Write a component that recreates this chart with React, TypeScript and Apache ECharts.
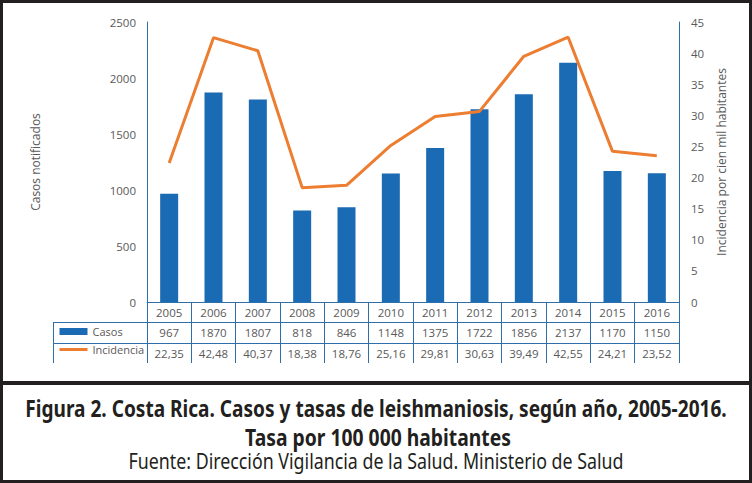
import React, { useEffect, useRef } from "react";
import * as echarts from "echarts";

const years = ["2005", "2006", "2007", "2008", "2009", "2010", "2011", "2012", "2013", "2014", "2015", "2016"];
const casos = [967, 1870, 1807, 818, 846, 1148, 1375, 1722, 1856, 2137, 1170, 1150];
const incidencia = [22.35, 42.48, 40.37, 18.38, 18.76, 25.16, 29.81, 30.63, 39.49, 42.55, 24.21, 23.52];
const leftTicks = { min: 0, max: 2500, interval: 500 };
const rightTicks = { min: 0, max: 45, interval: 5 };

const titleLine1 = "Figura 2. Costa Rica. Casos y tasas de leishmaniosis, según año, 2005-2016.";
const titleLine2 = "Tasa por 100 000 habitantes";
const sourceLine = "Fuente: Dirección Vigilancia de la Salud. Ministerio de Salud";

const FONT = "'Open Sans', 'Noto Sans', sans-serif";
const CAP_FONT = "Noto Sans";
const BLUE = "#1B6AB4";
const ORANGE = "#ED7D31";
const LINE = "#2F6EA8";
const GRAY = "#595959";
const DARK = "#231F20";

function measure(text: string, font: string): number {
  const c = document.createElement("canvas");
  const ctx = c.getContext("2d");
  if (!ctx) return 100;
  ctx.font = font;
  return ctx.measureText(text).width;
}

export default function App() {
  const ref = useRef<HTMLDivElement>(null);
  useEffect(() => {
    document.body.style.margin = "0";
    if (!ref.current) return;
    const chart = echarts.init(ref.current, undefined, { renderer: "svg" });

    const gl = 147, gr = 679, gt = 22, gb = 302;
    const fmtInc = (v: number) => v.toFixed(2).replace(".", ",");

    const capText = (text: string, cx: number, cy: number, size: number, weight: string, targetW: number) => {
      const w = measure(text, `${weight} ${size}px '${CAP_FONT}'`);
      return {
        type: "text",
        x: cx,
        y: cy,
        scaleX: targetW / w,
        style: {
          text,
          fill: DARK,
          font: `${weight} ${size}px '${CAP_FONT}'`,
          align: "center",
          verticalAlign: "middle",
        },
        silent: true,
      };
    };

    const tableAxis = (data: string[], offset: number) => ({
      type: "category",
      data,
      position: "bottom",
      offset,
      axisLine: { show: true, onZero: false, lineStyle: { color: LINE, width: 1 } },
      axisTick: { show: false },
      axisLabel: { margin: 4, fontFamily: FONT, fontSize: 11.5, color: GRAY, interval: 0 },
    });

    const option: any = {
      animation: false,
      backgroundColor: "#fff",
      grid: { left: gl, right: 752 - gr, top: gt, bottom: 483 - gb, containLabel: false },
      legend: {
        orient: "vertical",
        left: 58,
        top: 326,
        padding: 0,
        itemWidth: 28,
        itemHeight: 7,
        itemGap: 7,
        textStyle: { fontFamily: FONT, fontSize: 11, color: GRAY },
        data: [
          { name: "Casos", icon: "rect" },
          { name: "Incidencia", itemStyle: { opacity: 0 }, lineStyle: { width: 3, color: ORANGE } },
        ],
      },
      xAxis: [
        {
          type: "category",
          data: years,
          position: "bottom",
          axisLine: { show: true, onZero: false, lineStyle: { color: LINE, width: 1 } },
          axisTick: { show: true, interval: 0, length: 61, lineStyle: { color: LINE, width: 1 } },
          axisLabel: { margin: 4, fontFamily: FONT, fontSize: 11.5, color: GRAY, interval: 0 },
        },
        tableAxis(casos.map((v) => String(v)), 20),
        tableAxis(incidencia.map(fmtInc), 41),
      ],
      yAxis: [
        {
          type: "value",
          min: leftTicks.min,
          max: leftTicks.max,
          interval: leftTicks.interval,
          name: "Casos notificados",
          nameLocation: "middle",
          nameGap: 106,
          nameTextStyle: { fontFamily: FONT, fontSize: 12, color: GRAY },
          axisLine: { show: true, lineStyle: { color: LINE, width: 1 } },
          axisTick: { show: false },
          splitLine: { show: false },
          axisLabel: { margin: 11, fontFamily: FONT, fontSize: 11.5, color: GRAY, formatter: (v: number) => String(v) },
        },
        {
          type: "value",
          min: rightTicks.min,
          max: rightTicks.max,
          interval: rightTicks.interval,
          name: "Incidencia por cien mil habitantes",
          nameLocation: "middle",
          nameGap: 31,
          nameTextStyle: { fontFamily: FONT, fontSize: 12, color: GRAY },
          axisLine: { show: true, lineStyle: { color: LINE, width: 1 } },
          axisTick: { show: false },
          splitLine: { show: false },
          axisLabel: { margin: 12, fontFamily: FONT, fontSize: 11.5, color: GRAY, formatter: (v: number) => String(v) },
        },
      ],
      series: [
        {
          name: "Casos",
          type: "bar",
          xAxisIndex: 0,
          yAxisIndex: 0,
          data: casos,
          barWidth: 18,
          itemStyle: { color: BLUE },
        },
        {
          name: "Incidencia",
          type: "line",
          xAxisIndex: 0,
          yAxisIndex: 1,
          data: incidencia,
          symbol: "none",
          lineStyle: { color: ORANGE, width: 3 },
          itemStyle: { color: ORANGE },
        },
      ],
      graphic: [
        // table left part
        { type: "line", shape: { x1: 53, y1: 322.5, x2: gl, y2: 322.5 }, style: { stroke: LINE, lineWidth: 1 }, silent: true },
        { type: "line", shape: { x1: 53, y1: 343.5, x2: gl, y2: 343.5 }, style: { stroke: LINE, lineWidth: 1 }, silent: true },
        { type: "line", shape: { x1: 53.5, y1: 322, x2: 53.5, y2: 363 }, style: { stroke: LINE, lineWidth: 1 }, silent: true },
        // frame
        { type: "rect", shape: { x: 0, y: 0, width: 752, height: 3 }, style: { fill: DARK }, silent: true },
        { type: "rect", shape: { x: 0, y: 0, width: 3, height: 483 }, style: { fill: DARK }, silent: true },
        { type: "rect", shape: { x: 749, y: 0, width: 3, height: 483 }, style: { fill: DARK }, silent: true },
        { type: "rect", shape: { x: 0, y: 480, width: 752, height: 3 }, style: { fill: DARK }, silent: true },
        { type: "rect", shape: { x: 0, y: 381, width: 752, height: 4 }, style: { fill: DARK }, silent: true },
        capText(titleLine1, 376, 408, 24, "bold", 702),
        capText(titleLine2, 378, 437, 24, "bold", 266),
        capText(sourceLine, 376, 461, 21, "normal", 495),
      ],
    };
    chart.setOption(option);
    return () => chart.dispose();
  }, []);
  return <div ref={ref} style={{ width: 752, height: 483 }} />;
}
